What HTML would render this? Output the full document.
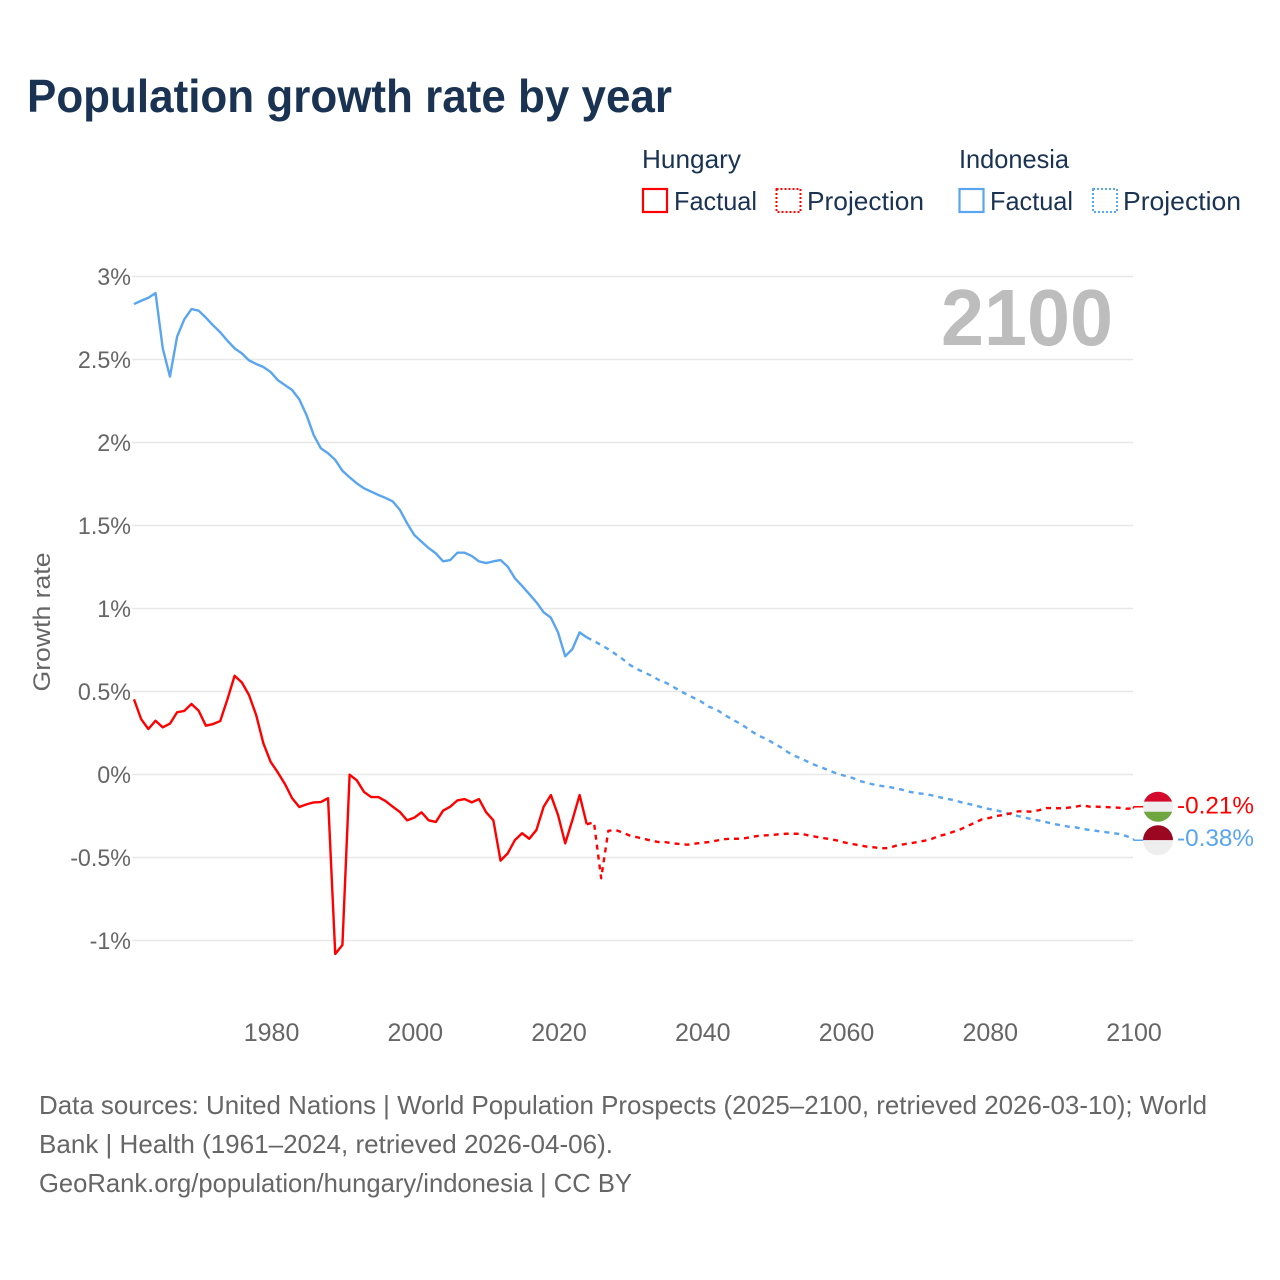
<!DOCTYPE html>
<html lang="en">
<head>
<meta charset="utf-8">
<title>Population growth rate by year</title>
<style>
html,body{margin:0;padding:0;background:#fff;}
svg{display:block;font-family:"Liberation Sans",sans-serif;}
</style>
</head>
<body>
<svg id="chart" width="1280" height="1280" viewBox="0 0 1280 1280" xmlns="http://www.w3.org/2000/svg">
  <rect width="1280" height="1280" fill="#ffffff"/>
  <defs>
    <clipPath id="clip-hu"><circle cx="0" cy="0" r="15"/></clipPath>
    <clipPath id="clip-id"><circle cx="0" cy="0" r="15"/></clipPath>
  </defs>
  <text x="27" y="112" font-size="46" font-weight="700" fill="#1a3352" textLength="645" lengthAdjust="spacingAndGlyphs">Population growth rate by year</text>

  <g font-size="26" fill="#1a3352">
    <text x="642" y="168" textLength="99" lengthAdjust="spacingAndGlyphs">Hungary</text>
    <text x="959" y="168" textLength="110" lengthAdjust="spacingAndGlyphs">Indonesia</text>
    <g>
      <rect x="643" y="189" width="24" height="23" fill="none" stroke="#ff0000" stroke-width="2.2"/>
      <text x="674" y="210" textLength="83" lengthAdjust="spacingAndGlyphs">Factual</text>
    </g>
    <g>
      <rect x="776.5" y="189" width="24" height="23" fill="none" stroke="#ff0000" stroke-width="2" stroke-dasharray="2 2"/>
      <text x="807" y="210" textLength="117" lengthAdjust="spacingAndGlyphs">Projection</text>
    </g>
    <g>
      <rect x="959.5" y="189" width="24" height="23" fill="none" stroke="#5aa5ef" stroke-width="2.2"/>
      <text x="990" y="210" textLength="83" lengthAdjust="spacingAndGlyphs">Factual</text>
    </g>
    <g>
      <rect x="1093" y="189" width="24" height="23" fill="none" stroke="#5aa5ef" stroke-width="2" stroke-dasharray="2 2"/>
      <text x="1123" y="210" textLength="118" lengthAdjust="spacingAndGlyphs">Projection</text>
    </g>
  </g>

  <g id="grid"></g>
  <g id="y-ticks" font-size="24.5" fill="#666666" text-anchor="end"></g>
  <g id="x-ticks" font-size="25" fill="#666666" text-anchor="middle"></g>
  <text transform="translate(50,622) rotate(-90)" font-size="24" fill="#666666" text-anchor="middle" textLength="139" lengthAdjust="spacingAndGlyphs">Growth rate</text>
  <text x="1113" y="345" font-size="80" font-weight="700" fill="#bdbdbd" text-anchor="end" textLength="172" lengthAdjust="spacingAndGlyphs">2100</text>

  <g id="series"></g>
  <g id="end-markers"></g>

  <g font-size="26" fill="#666666">
    <text x="39" y="1114" textLength="1168" lengthAdjust="spacingAndGlyphs">Data sources: United Nations | World Population Prospects (2025–2100, retrieved 2026-03-10); World</text>
    <text x="39" y="1153" textLength="574" lengthAdjust="spacingAndGlyphs">Bank | Health (1961–2024, retrieved 2026-04-06).</text>
    <text x="39" y="1192" textLength="593" lengthAdjust="spacingAndGlyphs">GeoRank.org/population/hungary/indonesia | CC BY</text>
  </g>
</svg>
<script>
const factualStartYear = 1961;
const projectionStartYear = 2024;
const xTickYears = [1980, 2000, 2020, 2040, 2060, 2080, 2100];
const yTickValues = [3, 2.5, 2, 1.5, 1, 0.5, 0, -0.5, -1];
const indonesiaFactual = [2.834,2.854,2.872,2.90,2.567,2.397,2.638,2.742,2.804,2.794,2.752,2.706,2.664,2.613,2.567,2.537,2.495,2.473,2.455,2.425,2.376,2.346,2.316,2.26,2.166,2.045,1.965,1.935,1.895,1.83,1.79,1.754,1.724,1.704,1.684,1.666,1.645,1.594,1.513,1.443,1.403,1.364,1.332,1.284,1.292,1.336,1.336,1.316,1.284,1.274,1.284,1.292,1.252,1.182,1.136,1.087,1.037,0.977,0.945,0.856,0.712,0.756,0.856,0.826];
const indonesiaProjection = [0.826,0.804,0.78,0.755,0.725,0.695,0.66,0.635,0.615,0.595,0.57,0.553,0.529,0.503,0.481,0.459,0.437,0.408,0.393,0.364,0.338,0.314,0.288,0.258,0.232,0.214,0.188,0.164,0.134,0.111,0.093,0.071,0.053,0.037,0.019,0.003,-0.009,-0.021,-0.039,-0.051,-0.061,-0.069,-0.075,-0.083,-0.093,-0.105,-0.113,-0.117,-0.125,-0.136,-0.146,-0.154,-0.166,-0.176,-0.186,-0.198,-0.208,-0.216,-0.226,-0.24,-0.25,-0.26,-0.27,-0.278,-0.288,-0.298,-0.306,-0.314,-0.318,-0.328,-0.334,-0.34,-0.346,-0.352,-0.358,-0.37,-0.385];
const hungaryFactual = [0.453,0.333,0.274,0.324,0.284,0.306,0.375,0.383,0.425,0.384,0.294,0.304,0.322,0.453,0.595,0.555,0.479,0.358,0.188,0.077,0.013,-0.057,-0.143,-0.196,-0.18,-0.168,-0.166,-0.143,-1.081,-1.027,-0.001,-0.035,-0.105,-0.136,-0.136,-0.16,-0.194,-0.226,-0.276,-0.26,-0.228,-0.276,-0.286,-0.218,-0.194,-0.156,-0.148,-0.168,-0.148,-0.228,-0.276,-0.519,-0.475,-0.395,-0.354,-0.387,-0.334,-0.194,-0.124,-0.244,-0.415,-0.274,-0.124,-0.3];
const hungaryProjection = [-0.3,-0.288,-0.625,-0.339,-0.334,-0.35,-0.368,-0.378,-0.388,-0.399,-0.407,-0.408,-0.415,-0.419,-0.423,-0.417,-0.411,-0.407,-0.399,-0.39,-0.387,-0.387,-0.384,-0.375,-0.369,-0.366,-0.364,-0.358,-0.357,-0.357,-0.358,-0.369,-0.376,-0.384,-0.39,-0.399,-0.411,-0.419,-0.427,-0.435,-0.439,-0.445,-0.443,-0.429,-0.421,-0.415,-0.407,-0.399,-0.388,-0.37,-0.36,-0.345,-0.33,-0.31,-0.29,-0.27,-0.262,-0.25,-0.244,-0.234,-0.222,-0.222,-0.224,-0.214,-0.202,-0.202,-0.204,-0.2,-0.194,-0.186,-0.194,-0.194,-0.196,-0.198,-0.2,-0.206,-0.205];
const endLabels = ['-0.21%', '-0.38%'];

const NS = 'http://www.w3.org/2000/svg';
const plotLeft = 134, plotRight = 1133;
const domainStart = 1961, domainEnd = 2100;
const yZero = 774.5, pxPerUnit = 166;
const RED = '#ff0000', BLUE = '#5aa5ef';

function xScale(year) {
  return plotLeft + (year - domainStart) * (plotRight - plotLeft) / (domainEnd - domainStart);
}
function yScale(value) {
  return yZero - value * pxPerUnit;
}
function make(tag, attrs, parent, text) {
  const el = document.createElementNS(NS, tag);
  for (const k in attrs) el.setAttribute(k, attrs[k]);
  if (text !== undefined) el.textContent = text;
  parent.appendChild(el);
  return el;
}
function pointsFor(values, startYear) {
  return values.map((v, i) => xScale(startYear + i).toFixed(2) + ',' + yScale(v).toFixed(2)).join(' ');
}

const grid = document.getElementById('grid');
const yTicks = document.getElementById('y-ticks');
const xTicks = document.getElementById('x-ticks');
const series = document.getElementById('series');
const markers = document.getElementById('end-markers');

yTickValues.forEach(v => {
  const line = make('line', {x1: plotLeft - 2, x2: plotRight, y1: yScale(v), y2: yScale(v), stroke: '#e8e8e8', 'stroke-width': 1.4}, grid);
  
  
  const label = make('text', {x: 131, y: yScale(v) + 8.5}, yTicks, v + '%');
  
  
  label.setAttribute('textLength', (label.getComputedTextLength() * 0.95).toFixed(1));
  label.setAttribute('lengthAdjust', 'spacingAndGlyphs');
});

xTickYears.forEach(year => {
  const label = make('text', {x: xScale(year) + 1, y: 1041}, xTicks, String(year));
  
  
});

function drawLine(values, startYear, color, dashed) {
  const attrs = {points: pointsFor(values, startYear), fill: 'none', stroke: color, 'stroke-width': 2.4, 'stroke-linejoin': 'round'};
  if (dashed) attrs['stroke-dasharray'] = '5 5';
  return make('polyline', attrs, series);
}

const lineIdF = drawLine(indonesiaFactual, factualStartYear, BLUE, false);


const lineIdP = drawLine(indonesiaProjection, projectionStartYear, BLUE, true);


const lineHuF = drawLine(hungaryFactual, factualStartYear, RED, false);


const lineHuP = drawLine(hungaryProjection, projectionStartYear, RED, true);



/* End markers: pushed apart so the flags do not overlap */
const huEnd = hungaryProjection[hungaryProjection.length - 1];
const idEnd = indonesiaProjection[indonesiaProjection.length - 1];
const endX = xScale(domainEnd);
const minGap = 33.5, flagX = 1158;
let huY = yScale(huEnd), idY = yScale(idEnd);
if (Math.abs(idY - huY) < minGap) {
  const mid = (huY + idY) / 2;
  const sign = idY >= huY ? 1 : -1;
  huY = mid - sign * minGap / 2;
  idY = mid + sign * minGap / 2;
}

const leaderHu = make('polyline', {points: endX + ',' + yScale(huEnd) + ' ' + (endX + 1) + ',' + huY + ' ' + (flagX - 14) + ',' + huY, fill: 'none', stroke: RED, 'stroke-width': 1.5}, markers);


const leaderId = make('polyline', {points: endX + ',' + yScale(idEnd) + ' ' + (endX + 1) + ',' + idY + ' ' + (flagX - 14) + ',' + idY, fill: 'none', stroke: BLUE, 'stroke-width': 1.5}, markers);



const flagHu = make('g', {transform: 'translate(' + flagX + ',' + huY + ')', 'clip-path': 'url(#clip-hu)'}, markers);


make('rect', {x: -16, y: -16, width: 32, height: 11, fill: '#d40a2c'}, flagHu);
make('rect', {x: -16, y: -5, width: 32, height: 10, fill: '#eeeeee'}, flagHu);
make('rect', {x: -16, y: 5, width: 32, height: 11, fill: '#70a640'}, flagHu);

const flagId = make('g', {transform: 'translate(' + flagX + ',' + idY + ')', 'clip-path': 'url(#clip-id)'}, markers);


make('rect', {x: -16, y: -16, width: 32, height: 16, fill: '#9b0720'}, flagId);
make('rect', {x: -16, y: 0, width: 32, height: 16, fill: '#eeeeee'}, flagId);

const labelHu = make('text', {x: 1177, y: huY + 7, 'font-size': 24, fill: RED, textLength: 77, lengthAdjust: 'spacingAndGlyphs'}, markers, endLabels[0]);


const labelId = make('text', {x: 1177, y: idY + 6, 'font-size': 24, fill: BLUE, textLength: 77, lengthAdjust: 'spacingAndGlyphs'}, markers, endLabels[1]);


</script>
</body>
</html>
